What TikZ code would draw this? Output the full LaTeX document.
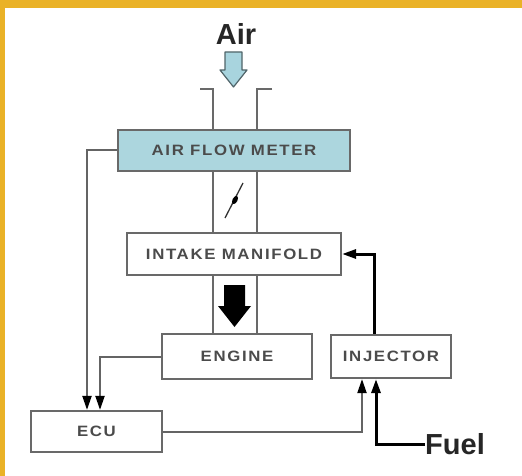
\documentclass[tikz,border=0pt]{standalone}
\usepackage{fontspec}
\setmainfont{Liberation Sans}
\newfontfamily\boxfont[LetterSpace=11,FakeStretch=1.12]{Liberation Sans}
\usetikzlibrary{arrows.meta}
\definecolor{frameyellow}{RGB}{234,178,39}
\definecolor{afmblue}{RGB}{172,214,222}
\definecolor{airblue}{RGB}{168,212,222}
\definecolor{boxline}{RGB}{105,105,105}
\definecolor{labelgray}{RGB}{75,75,75}
\definecolor{sigline}{RGB}{100,100,100}
\tikzset{
  blockbox/.style={draw=boxline, line width=2.2pt, fill=white, inner sep=0pt,
    font=\boxfont\bfseries\fontsize{15}{15}\selectfont, text=labelgray},
  sig/.style={draw=sigline, line width=2pt},
  fuelline/.style={draw=black, line width=3pt},
  pipe/.style={draw=boxline, line width=1.8pt},
  tip/.style={-{Triangle[length=14pt,width=9pt,color=black]}},
  bigtext/.style={font=\bfseries\fontsize{29}{29}\selectfont, text=black!85, inner sep=0pt}
}
\begin{document}
\begin{tikzpicture}[x=1pt,y=-1pt]
\useasboundingbox (0,0) rectangle (522,476);
\fill[white] (0,0) rectangle (522,476);
\fill[frameyellow] (0,0) rectangle (522,8);
\fill[frameyellow] (0,0) rectangle (5,476);

% coordinates for pipe and line positions
\coordinate (pL) at (213,0);
\coordinate (pR) at (257,0);
\coordinate (cA) at (87,0);
\coordinate (cB) at (100,0);
\coordinate (cC) at (362,0);
\coordinate (cD) at (376,0);
\coordinate (cE) at (374,0);

% nodes
\node[blockbox, fill=afmblue, minimum width=232pt, minimum height=41pt] (afm) at (234,150.5) {AIR FLOW METER};
\node[blockbox, minimum width=214pt, minimum height=42pt] (im) at (234,254) {INTAKE MANIFOLD};
\node[blockbox, minimum width=150pt, minimum height=45pt] (engine) at (237,356.5) {ENGINE};
\node[blockbox, minimum width=120pt, minimum height=43pt] (injector) at (391,356.5) {INJECTOR};
\node[blockbox, minimum width=131pt, minimum height=41pt] (ecu) at (96.5,431.5) {ECU};
\node[bigtext] (air) at (236,34) {Air};
\node[bigtext, anchor=west] (fuel) at (425,444) {Fuel};

% air inlet arrow
\filldraw[fill=airblue, draw={rgb,255:red,80;green,100;blue,105}, line width=1.2pt, line join=round]
  (225,52) -- (242,52) -- (242,70) -- (247,70) -- (233.5,87) -- (220,70) -- (225,70) -- cycle;

% duct with flanges
\draw[pipe] (200,89) -- (213,89) -- (afm.north -| pL);
\draw[pipe] (272,89) -- (257,89) -- (afm.north -| pR);
\draw[pipe] (afm.south -| pL) -- (im.north -| pL);
\draw[pipe] (afm.south -| pR) -- (im.north -| pR);
\draw[pipe] (im.south -| pL) -- (engine.north -| pL);
\draw[pipe] (im.south -| pR) -- (engine.north -| pR);

% throttle valve
\draw[line width=1.3pt, draw=black!80] (225,218) -- (243,183);
\fill[black] (235,200) ellipse [x radius=2.5pt, y radius=4.5pt, rotate=-27];

% flow arrow into engine
\fill[black] (224,285) -- (245,285) -- (245,306) -- (251,306) -- (234.5,327) -- (218,306) -- (224,306) -- cycle;

% signal lines
\draw[sig, tip] (afm.west) -| (ecu.north -| cA);
\draw[sig, tip] (engine.west) -| (ecu.north -| cB);
\draw[sig, tip] (ecu.east) -| (injector.south -| cC);

% fuel lines
\draw[fuelline, tip] (fuel.west) -| (injector.south -| cD);
\draw[fuelline, tip] (injector.north -| cE) |- (im.east);
\end{tikzpicture}
\end{document}
